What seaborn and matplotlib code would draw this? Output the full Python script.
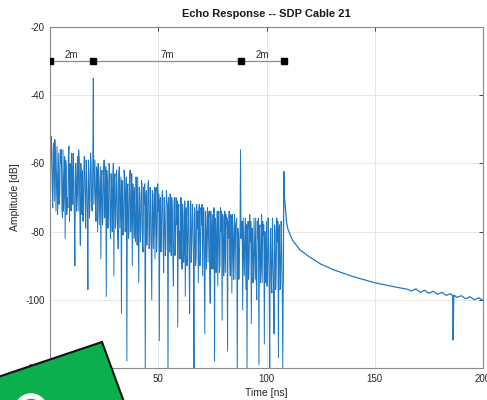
import numpy as np
import pandas as pd
import matplotlib
matplotlib.use("Agg")
import matplotlib.pyplot as plt
import seaborn as sns
from matplotlib.patches import Polygon, Circle
from matplotlib.transforms import IdentityTransform

# ---------------- data ----------------
noise_step = 0.5  # ns between noisy samples (main grid: 0, 0.5, 1.0, ...)
noise_db = [
    -30, -52, -66, -55, -71, -58, -64, -75, -57, -69,
    -60, -73, -56, -67, -82, -61, -70, -58, -77, -63,
    -57, -72, -65, -90, -60, -68, -74, -59, -84, -66,
    -62, -71, -58, -79, -65, -97, -63, -70, -60, -74,
    -35, -66, -72, -61, -80, -64, -69, -88, -62, -75,
    -59, -70, -99, -66, -73, -61, -82, -68, -64, -93,
    -63, -76, -67, -85, -61, -72, -104, -69, -78, -65,
    -71, -118, -66, -80, -62, -75, -90, -70, -67, -83,
    -73, -64, -95, -69, -79, -66, -86, -72, -122, -68,
    -77, -65, -84, -71, -100, -69, -76, -88, -67, -81,
    -74, -112, -70, -79, -68, -92, -73, -85, -71, -125,
    -76, -69, -87, -74, -96, -70, -82, -78, -108, -72,
    -80, -70, -91, -75, -84, -99, -73, -86, -77, -104,
    -71, -83, -76, -120, -74, -88, -79, -95, -72, -85,
    -78, -93, -73, -110, -81, -76, -89, -74, -101, -80,
    -75, -87, -118, -77, -84, -96, -74, -90, -80, -106,
    -76, -85, -92, -78, -115, -82, -88, -75, -98, -83,
    -79, -94, -77, -124, -81, -86, -56, -78, -103, -84,
    -80, -97, -121, -77, -89, -83, -107, -79, -92, -85,
    -76, -100, -82, -119, -78, -90, -95, -81, -113, -86,
    -77, -93, -84, -122, -79, -98, -88, -110, -80, -91,
    -83, -117, -78, -96, -85, -120,
]
# samples half-way between the main grid (0.25, 0.75, 1.25, ...)
noise_db_mid = [
    -62, -56, -73, -54, -53, -74, -55, -70, -72, -56,
    -56, -76, -74, -58, -59, -75, -73, -55, -60, -74,
    -63, -57, -76, -60, -74, -58, -56, -73, -60, -75,
    -77, -58, -72, -59, -75, -59, -76, -57, -73, -60,
    -72, -59, -77, -62, -60, -78, -61, -64, -78, -63,
    -76, -61, -62, -79, -60, -77, -63, -80, -60, -65,
    -79, -62, -80, -63, -79, -64, -65, -81, -62, -80,
    -64, -67, -82, -65, -80, -63, -66, -82, -81, -64,
    -84, -81, -67, -83, -65, -84, -67, -66, -70, -84,
    -66, -85, -67, -86, -68, -85, -67, -69, -86, -66,
    -69, -71, -86, -69, -84, -70, -87, -68, -72, -70,
    -86, -82, -70, -88, -71, -87, -70, -71, -74, -88,
    -88, -84, -72, -89, -71, -74, -90, -71, -89, -73,
    -89, -72, -88, -73, -90, -72, -74, -73, -90, -73,
    -72, -75, -90, -74, -91, -73, -76, -92, -74, -91,
    -91, -73, -76, -92, -74, -75, -92, -73, -74, -75,
    -93, -74, -75, -76, -77, -74, -93, -76, -75, -94,
    -75, -78, -76, -79, -94, -80, -82, -77, -76, -93,
    -76, -78, -80, -94, -75, -77, -79, -95, -76, -94,
    -94, -77, -76, -79, -95, -75, -77, -78, -80, -95,
    -96, -76, -96, -80, -96, -76, -95, -78, -97, -76,
    -77, -79, -97, -77, -96, -95,
]
noise_t = []
noise_all = []
for i, (a, b) in enumerate(zip(noise_db, noise_db_mid)):
    noise_t += [i * noise_step, i * noise_step + noise_step / 2]
    noise_all += [a, b]

decay_t = [108.0, 108.3, 108.6, 109.3, 110, 112, 115.5, 120, 125, 131, 140, 150,
           160, 165, 167, 169, 171, 173, 175, 177, 179, 181, 183, 185, 186, 186.2,
           186.5, 188, 190, 192, 194, 196, 198, 200]
decay_db = [-62.4, -70, -72, -77.6, -79.5, -82.5, -85.4, -87.5, -89.5, -91.2, -93.2, -95,
            -96.3, -96.9, -97.4, -96.8, -97.8, -97.2, -98.1, -97.5, -98.4, -97.8, -98.7, -98.2,
            -98.9, -111.8, -98.6, -99.3, -98.8, -99.7, -99.1, -100.0, -99.4, -100.2]

marker_t = [0, 20, 88, 108]
marker_db = -30
seg_labels = ["2m", "7m", "2m"]

title = "Echo Response -- SDP Cable 21"
xlabel = "Time [ns]"
ylabel = "Amplitude [dB]"
xticks = [0, 50, 100, 150, 200]
yticks = [-120, -100, -80, -60, -40, -20]

# ---------------- plot ----------------
sns.set_theme(style="white")
plt.rcParams["font.family"] = ["Liberation Sans", "DejaVu Sans"]

fig = plt.figure(figsize=(4.87, 4.0), dpi=100)
ax = fig.add_axes([50 / 487, 1 - 368 / 400, (483 - 50) / 487, (368 - 27) / 400])

df_noise = pd.DataFrame({"t": noise_t, "db": noise_all})
df_decay = pd.DataFrame({"t": [noise_t[-1]] + decay_t, "db": [noise_all[-1]] + decay_db})
sns.lineplot(data=df_noise, x="t", y="db", estimator=None, sort=False, ax=ax,
             color="#1f78c1", lw=0.7)
sns.lineplot(data=df_decay, x="t", y="db", estimator=None, sort=False, ax=ax,
             color="#1f78c1", lw=0.9)

# segment markers
ax.plot(marker_t, [marker_db] * len(marker_t), color="#8c8c8c", lw=0.9, zorder=3)
ax.plot(marker_t, [marker_db] * len(marker_t), ls="none", marker="s", ms=4,
        color="black", zorder=4)
for a, b, lab in zip(marker_t[:-1], marker_t[1:], seg_labels):
    ax.text((a + b) / 2, marker_db + 0.3, lab, ha="center", va="bottom",
            fontsize=7, color="#262626")

ax.set_xlim(0, 200)
ax.set_ylim(-120, -20)
ax.set_xticks(xticks)
ax.set_yticks(yticks)
ax.set_yticklabels([str(v) for v in yticks])
ax.grid(True, color="#e6e6e6", lw=0.7)
ax.set_axisbelow(True)
ax.tick_params(axis="both", direction="in", length=3, width=0.6, colors="#262626",
               labelsize=7, top=True, right=True, labelcolor="#262626", pad=4)
for s in ax.spines.values():
    s.set_color("#8a8a8a")
    s.set_linewidth(0.8)
ax.set_xlabel(xlabel, fontsize=7.5, color="#262626", labelpad=3)
ax.set_ylabel(ylabel, fontsize=7.5, color="#262626", labelpad=4)
ax.set_title(title, fontsize=8, fontweight="bold", color="#1a1a1a", pad=7)

# green sticker overlay (in pixel coordinates; y measured from top)
H = 400
pts = [(-5, 378), (102, 342), (124, 402), (-5, 402)]
sticker = Polygon([(x, H - y) for x, y in pts], closed=True, facecolor="#0aaf4e",
                  edgecolor="#111111", lw=1.5, transform=IdentityTransform(), zorder=10)
fig.add_artist(sticker)
ring = Circle((31, H - 410), 14, facecolor="none", edgecolor="white", lw=4,
              transform=IdentityTransform(), zorder=11)
fig.add_artist(ring)

fig.savefig("out.png", dpi=100)
